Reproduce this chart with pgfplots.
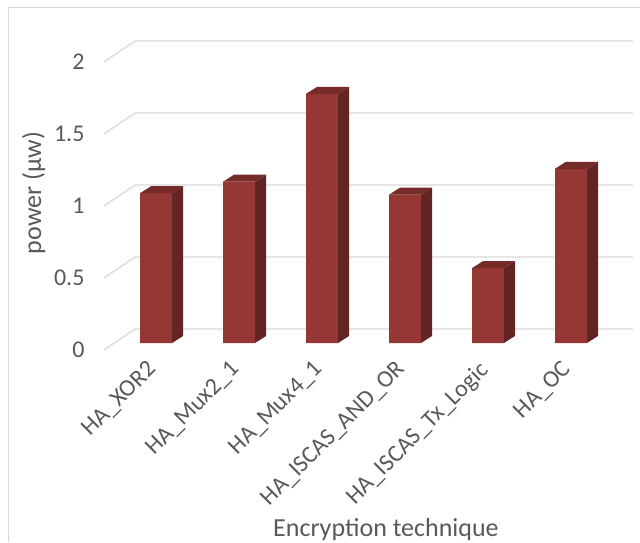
\documentclass[border=0pt]{standalone}
\usepackage{pgfplots}
\pgfplotsset{compat=1.18}
\usepackage{fontspec}
\setmainfont{Carlito}
\definecolor{barfront}{HTML}{953735}
\definecolor{barside}{HTML}{632523}
\definecolor{bartop}{HTML}{772B29}
\definecolor{gridc}{HTML}{D9D9D9}
\definecolor{txt}{HTML}{595959}
\begin{document}
\begin{tikzpicture}
\path[use as bounding box] (0,0) rectangle (640pt,542pt);
\draw[gridc, line width=1pt] (8.5pt,0) -- (8.5pt,534.5pt) -- (640pt,534.5pt);
\begin{axis}[
  at={(104pt,192pt)}, anchor=south west,
  scale only axis, width=529pt, height=309pt,
  xmin=-0.627, xmax=5.747, ymin=-0.0486, ymax=2.0972,
  clip=false,
  axis line style={draw=none}, major tick style={draw=none},
  xtick={0,1,2,3,4,5},
  xticklabels={HA\_XOR2, HA\_Mux2\_1, HA\_Mux4\_1, HA\_ISCAS\_AND\_OR, HA\_ISCAS\_Tx\_Logic, HA\_OC},
  ytick={-0.0486,0.4514,0.9514,1.4514,1.9514},
  yticklabels={0,0.5,1,1.5,2},
  /pgf/number format/assume math mode=true,
  ticklabel style={font=\fontsize{24}{28}\selectfont, text=txt},
  yticklabel style={xshift=-16pt},
  xticklabel style={rotate=45, anchor=north east, inner sep=0pt, xshift=-13.5pt, yshift=0.7pt},
  xlabel={Encryption technique},
  ylabel={power (µw)},
  label style={font=\fontsize{26}{30}\selectfont, text=txt},
  xlabel style={at={(axis description cs:0.533,-0.581)}, anchor=center},
  ylabel style={at={(axis description cs:-0.133,0.508)}, anchor=center},
]
% perspective grid (front edge -> back wall)
\addplot[gridc, line width=1.3pt] coordinates {(-0.627,-0.0486) (-0.253,0.0972) (5.747,0.0972)};
\addplot[gridc, line width=1.3pt] coordinates {(-0.627,0.4514) (-0.253,0.5972) (5.747,0.5972)};
\addplot[gridc, line width=1.3pt] coordinates {(-0.627,0.9514) (-0.253,1.0972) (5.747,1.0972)};
\addplot[gridc, line width=1.3pt] coordinates {(-0.627,1.4514) (-0.253,1.5972) (5.747,1.5972)};
\addplot[gridc, line width=1.3pt] coordinates {(-0.627,1.9514) (-0.253,2.0972) (5.747,2.0972)};
% bar fronts
\addplot[ybar, bar width=32pt, fill=barfront, draw=none] coordinates {(0,1.04) (1,1.12) (2,1.73) (3,1.03) (4,0.52) (5,1.21)};
% side faces
\addplot[fill=barside, draw=none] coordinates {(0.1928,0) (0.3253,0.0486) (0.3253,1.0886) (0.1928,1.04)};
\addplot[fill=barside, draw=none] coordinates {(1.1928,0) (1.3253,0.0486) (1.3253,1.1686) (1.1928,1.12)};
\addplot[fill=barside, draw=none] coordinates {(2.1928,0) (2.3253,0.0486) (2.3253,1.7786) (2.1928,1.73)};
\addplot[fill=barside, draw=none] coordinates {(3.1928,0) (3.3253,0.0486) (3.3253,1.0786) (3.1928,1.03)};
\addplot[fill=barside, draw=none] coordinates {(4.1928,0) (4.3253,0.0486) (4.3253,0.5686) (4.1928,0.52)};
\addplot[fill=barside, draw=none] coordinates {(5.1928,0) (5.3253,0.0486) (5.3253,1.2586) (5.1928,1.21)};
% top faces
\addplot[fill=bartop, draw=none] coordinates {(-0.1928,1.04) (0.1928,1.04) (0.3253,1.0886) (-0.0603,1.0886)};
\addplot[fill=bartop, draw=none] coordinates {(0.8072,1.12) (1.1928,1.12) (1.3253,1.1686) (0.9397,1.1686)};
\addplot[fill=bartop, draw=none] coordinates {(1.8072,1.73) (2.1928,1.73) (2.3253,1.7786) (1.9397,1.7786)};
\addplot[fill=bartop, draw=none] coordinates {(2.8072,1.03) (3.1928,1.03) (3.3253,1.0786) (2.9397,1.0786)};
\addplot[fill=bartop, draw=none] coordinates {(3.8072,0.52) (4.1928,0.52) (4.3253,0.5686) (3.9397,0.5686)};
\addplot[fill=bartop, draw=none] coordinates {(4.8072,1.21) (5.1928,1.21) (5.3253,1.2586) (4.9397,1.2586)};
\end{axis}
\end{tikzpicture}
\end{document}
